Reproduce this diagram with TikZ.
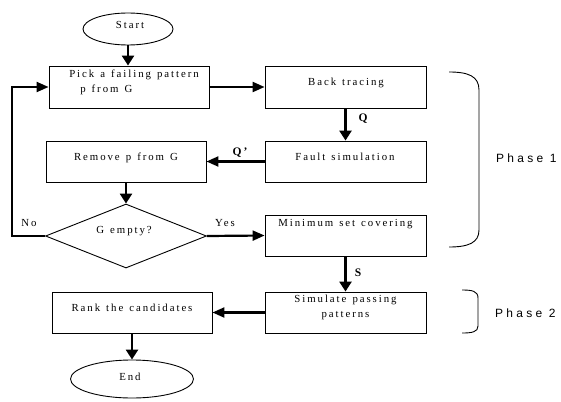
\documentclass[tikz,border=0pt]{standalone}
\usepackage{fontspec}
\setmainfont{Liberation Serif}
\newfontfamily\boxfont[LetterSpace=18,WordSpace=1.3]{Liberation Serif}
\newfontfamily\phasefont[LetterSpace=27]{Liberation Sans}
\usetikzlibrary{shapes.geometric,arrows.meta}
\begin{document}
\begin{tikzpicture}[x=1pt,y=-1pt,
  box/.style={draw, line width=0.9pt, minimum width=161pt, minimum height=41pt, inner sep=0pt},
  oval/.style={draw, ellipse, line width=0.9pt, inner sep=0pt},
  txt/.style={font=\boxfont\fontsize{10.8}{15}\selectfont, inner sep=0pt, text height=7.5pt, text depth=2pt},
  lbl/.style={font=\boxfont\bfseries\fontsize{11.5}{13}\selectfont, inner sep=0pt},
  phase/.style={font=\phasefont\fontsize{12}{14}\selectfont, inner sep=0pt, anchor=west},
  varrow/.style={line width=2.8pt, -{Triangle[length=10pt,width=12pt]}},
  harrow/.style={line width=2.2pt, -{Triangle[length=12pt,width=10pt]}},
  brace/.style={line width=0.9pt}]
\useasboundingbox (0,0) rectangle (561,401);

% shapes
\node[oval, minimum width=90pt, minimum height=32pt] (start) at (128,29) {};
\node[box, minimum width=160pt, minimum height=42pt] (pick) at (129,87) {};
\node[box, minimum height=42pt] (back) at (345.5,87) {};
\node[box] (fault) at (345.5,161.5) {};
\node[box, minimum width=160pt] (remove) at (126,161.5) {};
\node[draw, diamond, line width=0.9pt, inner sep=0pt, minimum width=161pt, minimum height=64pt] (dia) at (126,236) {};
\node[box] (min) at (345.5,235.5) {};
\node[box] (sim) at (345.5,312.5) {};
\node[box, minimum width=160pt] (rank) at (132,312.5) {};
\node[oval, minimum width=123pt, minimum height=38pt] (end) at (132,379) {};

% texts
\node[txt] (startt) at (130,26) {Start};
\node[txt, align=left, text height=, text depth=] (pickt) at (134,82) {Pick a failing pattern\\\hspace{11pt}p from G};
\node[txt] (backt) at (346,83) {Back tracing};
\node[txt] (faultt) at (345,158) {Fault simulation};
\node[txt] (removet) at (126,158) {Remove p from G};
\node[txt] (diat) at (124,231) {G empty?};
\node[txt] (mint) at (345.5,224) {Minimum set covering};
\node[txt, align=center, text height=, text depth=] (simt) at (345.5,307) {Simulate passing\\patterns};
\node[txt] (rankt) at (132,309) {Rank the candidates};
\node[txt] (endt) at (130,378) {End};

% connectors
\draw[varrow] (start.south) -- (start.south |- pick.north);
\draw[harrow] (pick.east) -- (back.west);
\draw[varrow] (back.south) -- (fault.north);
\draw[harrow] (fault.west) -- (remove.east);
\draw[varrow] (remove.south) -- (dia.north);
\draw[harrow] (dia.east) -- (min.west);
\coordinate (fb) at (12,236);
\draw[harrow] (dia.west) -- (fb) |- (pick.west);
\draw[varrow] (min.south) -- (sim.north);
\draw[harrow] (sim.west) -- (rank.east);
\draw[varrow] (rank.south) -- (end.north);

% labels
\node[lbl] (q) at (363,119) {Q};
\node[lbl] (qp) at (240,153) {Q’};
\node[lbl] (s) at (358,273) {S};
\node[txt] (no) at (29,224) {No};
\node[txt] (yes) at (225,224) {Yes};

% braces
\draw[brace] (449,72) .. controls (468,72) and (479,76) .. (479,90) -- (479,230) .. controls (479,243) and (468,247) .. (449,247);
\draw[brace] (462,290) .. controls (472,290) and (478,291) .. (478,298) -- (478,326) .. controls (478,332) and (472,333) .. (462,333);
\node[phase] (ph1) at (496,158) {Phase 1};
\node[phase] (ph2) at (495,313) {Phase 2};
\end{tikzpicture}
\end{document}
